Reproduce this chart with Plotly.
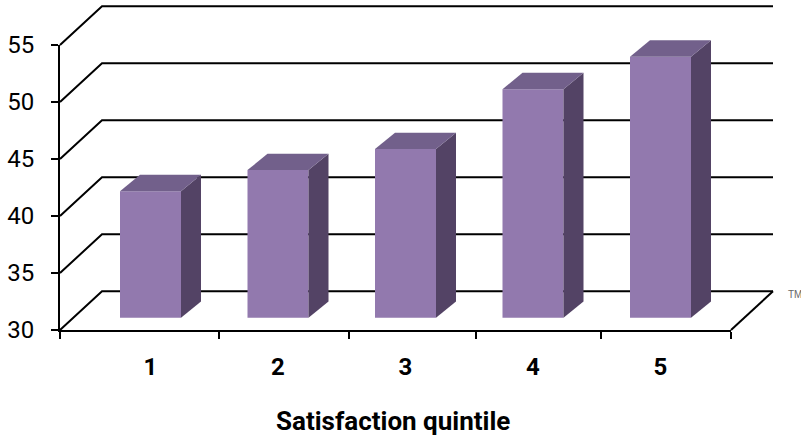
import plotly.graph_objects as go

categories = ["1", "2", "3", "4", "5"]
values = [41.1, 42.95, 44.8, 50.05, 52.9]
y_ticks = [30, 35, 40, 45, 50, 55]
x_title = "Satisfaction quintile"

W, H = 801, 438
# pixel geometry of the oblique projection
PX_X0, PX_X1 = 60, 731       # front of the floor
PX_Y30, PX_Y55 = 330, 45
FIRST_CENTER, STEP = 150.5, 127.5
BAR_W = 61 / STEP
PX_PER_UNIT = (PX_Y30 - PX_Y55) / 25
WALL_DX, WALL_DY = 42 / STEP, 38.7 / PX_PER_UNIT
BAR_LIFT = 12.3 / PX_PER_UNIT
BAR_DX, BAR_DY = 20 / STEP, 16.3 / PX_PER_UNIT
FRONT = "#9279AE"
TOP = "#72608B"
SIDE = "#534365"
INK = "#000000"
FONT = "Roboto"


def cx(px):
    return 1 + (px - FIRST_CENTER) / STEP


def vy(py):
    return 30 + (PX_Y30 - py) / PX_PER_UNIT


fig = go.Figure()

# invisible carrier for the real axes
fig.add_trace(go.Scatter(x=[1], y=[30], mode="markers", marker=dict(opacity=0),
                         hoverinfo="skip", showlegend=False))

# walls and floor sit in one full-canvas subplot, the bars in a later one on top of it
walls = dict(xaxis="x2", yaxis="y2", showlegend=False, hoverinfo="skip")
bars = dict(xaxis="x3", yaxis="y3", showlegend=False, hoverinfo="skip")
left = cx(PX_X0)
right = cx(PX_X1)

# gridlines running across the left wall and the back wall
for t in y_ticks:
    fig.add_trace(go.Scatter(
        x=[left, left + WALL_DX, right + WALL_DX],
        y=[t, t + WALL_DY, t + WALL_DY],
        mode="lines", line=dict(color=INK, width=2), **walls))

# floor edge
fig.add_trace(go.Scatter(
    x=[right, right + WALL_DX], y=[30, 30 + WALL_DY],
    mode="lines", line=dict(color=INK, width=2), **walls))

# bars: side and top faces, then the front face
for i, v in enumerate(values):
    k = i + 1
    x0, x1 = k - BAR_W / 2, k + BAR_W / 2
    y0, y1 = 30 + BAR_LIFT, v + BAR_LIFT
    fig.add_trace(go.Scatter(
        x=[x1, x1 + BAR_DX, x1 + BAR_DX, x1, x1],
        y=[y0, y0 + BAR_DY, y1 + BAR_DY, y1, y0],
        mode="lines", fill="toself", fillcolor=SIDE, line=dict(width=0), **bars))
    fig.add_trace(go.Scatter(
        x=[x0, x0 + BAR_DX, x1 + BAR_DX, x1, x0],
        y=[y1, y1 + BAR_DY, y1 + BAR_DY, y1, y1],
        mode="lines", fill="toself", fillcolor=TOP, line=dict(width=0), **bars))

fig.add_trace(go.Bar(
    x=list(range(1, len(values) + 1)),
    y=[v - 30 for v in values],
    base=30 + BAR_LIFT,
    width=BAR_W,
    marker=dict(color=FRONT, line=dict(width=0)),
    **bars))

tick_px = [60, 219, 349, 476, 601, 731]
canvas_x = dict(automargin=False, domain=[0, 1], range=[cx(0), cx(W)], visible=False)
canvas_y = dict(automargin=False, domain=[0, 1], range=[vy(H), vy(0)], visible=False)

fig.update_layout(
    width=W, height=H,
    margin=dict(l=0, r=0, t=0, b=0, pad=0, autoexpand=False),
    paper_bgcolor="white", plot_bgcolor="rgba(0,0,0,0)",
    showlegend=False,
    xaxis=dict(
        automargin=False,
        domain=[PX_X0 / W, PX_X1 / W],
        range=[left, right],
        tickmode="array",
        tickvals=list(range(1, len(categories) + 1)),
        ticktext=categories,
        ticks="",
        tickfont=dict(family=FONT, size=24, color=INK, weight="bold"),
        ticklabelstandoff=14,
        showgrid=False, zeroline=False,
        showline=True, linecolor=INK, linewidth=2,
        minor=dict(tickmode="array", tickvals=[cx(p) for p in tick_px],
                   ticks="outside", ticklen=7, tickwidth=2, tickcolor=INK, showgrid=False),
    ),
    yaxis=dict(
        automargin=False,
        domain=[(H - PX_Y30) / H, (H - PX_Y55) / H],
        range=[30, 55],
        tickmode="array", tickvals=y_ticks,
        ticks="outside", ticklen=7, tickwidth=2, tickcolor=INK,
        tickfont=dict(family=FONT, size=24, color=INK),
        ticklabelstandoff=12,
        showgrid=False, zeroline=False,
        showline=True, linecolor=INK, linewidth=2,
    ),
    xaxis2=dict(anchor="y2", **canvas_x),
    yaxis2=dict(anchor="x2", **canvas_y),
    xaxis3=dict(anchor="y3", **canvas_x),
    yaxis3=dict(anchor="x3", **canvas_y),
    annotations=[
        dict(text=f"<b>{x_title}</b>", xref="paper", yref="paper",
             x=393 / W, y=1 - 421 / H,
             xanchor="center", yanchor="middle", showarrow=False,
             font=dict(family=FONT, size=26, color=INK)),
        dict(text="TM", xref="paper", yref="paper",
             x=786 / W, y=1 - 294 / H,
             xanchor="left", yanchor="middle", showarrow=False,
             font=dict(family="Liberation Sans", size=10, color="#666666")),
    ],
)

fig.write_html("out.html", config=dict(displayModeBar=False),
               post_script="document.body.style.margin = '0';")
